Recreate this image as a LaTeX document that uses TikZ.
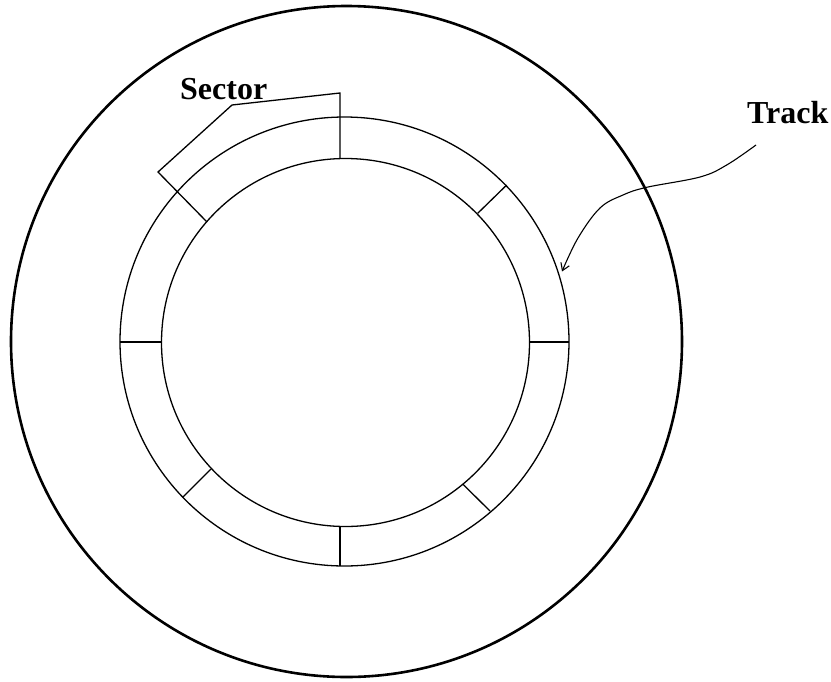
\documentclass[tikz,border=0pt]{standalone}
\usepackage{fontspec}
\setmainfont{Liberation Serif}
\usetikzlibrary{arrows.meta}
\begin{document}
\begin{tikzpicture}[x=1pt,y=-1pt,
  thin line/.style={line width=1.3pt},
  disk/.style={line width=2.6pt},
  label text/.style={font=\fontsize{32}{34}\selectfont\bfseries, inner sep=0pt, anchor=base west}]
\useasboundingbox (0,0) rectangle (831,681);
% disk
\draw[disk] (346.5,341.5) circle[radius=335.5];
% track circles
\draw[thin line] (344.5,341.5) circle[radius=224.5];
\draw[thin line] (345.5,342.5) circle[radius=184];
% sector dividers
\draw[thin line] (477.7,213.3) -- (506.7,185);
\draw[thin line] (530,342) -- (569,342);
\draw[thin line] (462.7,484) -- (490,511);
\draw[thin line] (340,526.5) -- (340,565.5);
\draw[thin line] (211,469) -- (182.7,497.3);
\draw[thin line] (119.5,342) -- (161.5,342);
% labels
\node[label text] (sector) at (180,99.3) {Sector};
\node[label text] (track) at (747,123) {Track};
% sector bracket (includes 135 and 90 degree dividers)
\coordinate (b1) at (207,222);
\coordinate (b2) at (158,172);
\coordinate (b3) at (232,105);
\coordinate (b4) at (340,93);
\coordinate (b5) at (340,158.5);
\draw[thin line, line join=miter] (b1) -- (b2) -- (b3) -- (b4) -- (b5);
% track pointer
\coordinate (t0) at (756,145);
\coordinate (t1) at (562,271.5);
\draw[line width=1.1pt, -{Straight Barb[length=7pt,width=9pt]}]
  plot[smooth, tension=0.6] coordinates {(t0) (726.7,165) (700,177) (646.7,187.3) (623,195) (600,208) (578,238) (t1)};
\end{tikzpicture}
\end{document}
